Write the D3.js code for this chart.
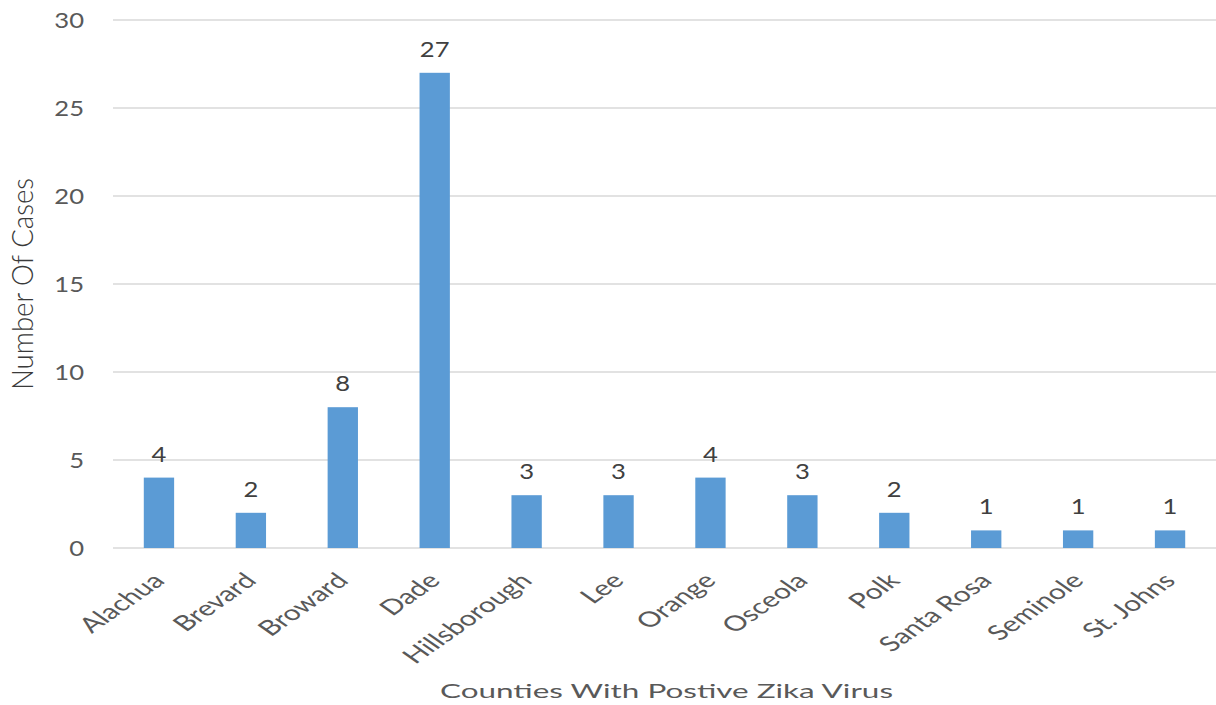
<!DOCTYPE html>
<html>
<head>
<meta charset="utf-8">
<script src="https://cdn.jsdelivr.net/npm/d3@7"></script>
<style>
  body { margin: 0; background: #fff; }
  text { font-family: Lato, "Open Sans", sans-serif; }
</style>
</head>
<body>
<svg id="chart" width="1216" height="705"></svg>
<script>
// counties and case counts
var counties = ["Alachua", "Brevard", "Broward", "Dade", "Hillsborough", "Lee",
  "Orange", "Osceola", "Polk", "Santa Rosa", "Seminole", "St. Johns"];
var cases = [4, 2, 8, 27, 3, 3, 4, 3, 2, 1, 1, 1];
var yTicks = [0, 5, 10, 15, 20, 25, 30];

// the original picture is stretched sideways, so text gets this x stretch
var stretch = 1.43;

var svg = d3.select("#chart");

var x = d3.scaleBand()
  .domain(counties)
  .range([113, 1216])
  .paddingInner(0.67)
  .paddingOuter(0.335);

var y = d3.scaleLinear()
  .domain([0, 30])
  .range([548, 20]);

// gridlines
svg.append("g")
  .selectAll("line")
  .data(yTicks)
  .enter()
  .append("line")
  .attr("x1", 113)
  .attr("x2", 1216)
  .attr("y1", function(d) { return y(d); })
  .attr("y2", function(d) { return y(d); })
  .attr("stroke", "#d9d9d9")
  .attr("stroke-width", 1.5);

// y axis labels
svg.append("g")
  .selectAll("text")
  .data(yTicks)
  .enter()
  .append("text")
  .attr("transform", function(d) { return "translate(84," + (y(d) + 7.5) + ") scale(1.22,1)"; })
  .attr("text-anchor", "end")
  .attr("font-size", 21)
  .attr("fill", "#595959")
  .text(function(d) { return d; });

// bars
svg.append("g")
  .selectAll("rect")
  .data(cases)
  .enter()
  .append("rect")
  .attr("x", function(d, i) { return x(counties[i]); })
  .attr("y", function(d) { return y(d); })
  .attr("width", x.bandwidth())
  .attr("height", function(d) { return y(0) - y(d); })
  .attr("fill", "#5b9bd5");

// value labels
svg.append("g")
  .selectAll("text")
  .data(cases)
  .enter()
  .append("text")
  .attr("transform", function(d, i) {
    return "translate(" + (x(counties[i]) + x.bandwidth() / 2) + "," + (y(d) - 16) + ") scale(1.22,1)";
  })
  .attr("text-anchor", "middle")
  .attr("font-size", 21)
  .attr("fill", "#404040")
  .text(function(d) { return d; });

// category labels
var xAxis = svg.append("g")
  .attr("transform", "translate(0,548)")
  .call(d3.axisBottom(x).tickSize(0).tickPadding(0));
xAxis.select(".domain").remove();
xAxis.selectAll("text")
  .attr("font-size", 21)
  .attr("fill", "#595959")
  .style("font-family", "Lato, sans-serif")
  .attr("text-anchor", "end")
  .attr("dy", null)
  .attr("y", 0)
  .attr("transform", "translate(7,34) scale(" + stretch + ",1) rotate(-45)");

// axis titles
svg.append("text")
  .attr("x", 440)
  .attr("y", 698)
  .attr("font-size", 19)
  .attr("fill", "#595959")
  .attr("textLength", 453)
  .attr("lengthAdjust", "spacingAndGlyphs")
  .text("Counties With Postive Zika Virus");

svg.append("text")
  .attr("transform", "translate(33,390) scale(" + stretch + ",1) rotate(-90)")
  .attr("font-size", 20)
  .attr("font-weight", 300)
  .attr("fill", "#3a3a3a")
  .attr("textLength", 212)
  .attr("lengthAdjust", "spacingAndGlyphs")
  .text("Number Of Cases");
</script>
</body>
</html>
